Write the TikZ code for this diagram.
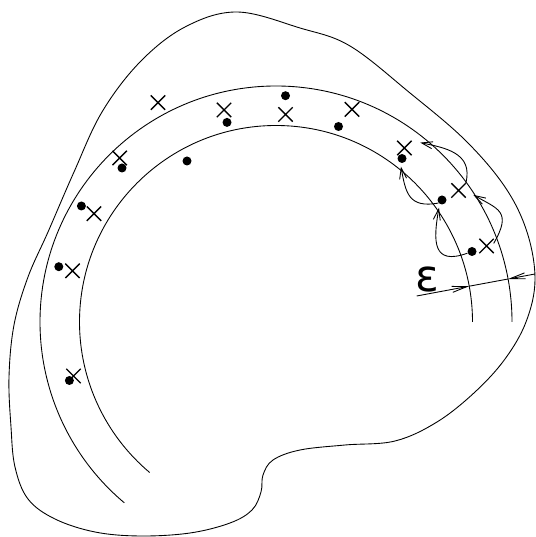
\documentclass[tikz,border=0pt]{standalone}
\usepackage{fontspec}
\newfontfamily\epsfont{DejaVu Sans}
\usetikzlibrary{arrows.meta,shapes.misc}

\begin{document}
\begin{tikzpicture}[
    x=0.02cm, y=0.02cm,
    edge/.style={line width=0.5pt},
    xmark/.style={
        cross out, draw, line width=0.8pt,
        minimum size=0.26cm, inner sep=0pt
    },
    dotmark/.style={
        circle, fill, minimum size=0.18cm, inner sep=0pt
    },
    flow/.style={-{Straight Barb[length=2.2mm,width=1.4mm]}, line width=0.5pt},
    dimarr/.style={-{Straight Barb[length=3mm,width=1.2mm]}, line width=0.5pt}
]
\useasboundingbox (0,0) rectangle (536,537);

% Outer region
\draw[edge] plot[smooth cycle, tension=0.6] coordinates {
    (237,525) (300,509) (350,491) (410,444) (465,397) (505,350) (527,305)
    (535,257) (526,215) (505,178) (475,145) (437,115) (395,96) (345,92)
    (300,87) (273,77) (263,62) (261,45) (252,27) (230,14) (190,4) (140,1)
    (95,5) (55,18) (28,38) (15,70) (11,110) (9,160) (14,212) (28,260)
    (48,305) (74,365) (102,425) (140,475) (185,510)};

% Band between two circular arcs
\coordinate (C) at (276,215);
\draw[edge] (C) ++(196.5,0) arc[start angle=0, end angle=230, radius=196.5];
\draw[edge] (C) ++(236,0) arc[start angle=0, end angle=230, radius=236];

% Crosses
\node[xmark] (c1)  at (158,434.4) {};
\node[xmark] (c2)  at (224,427)   {};
\node[xmark] (c3)  at (285.5,422.5) {};
\node[xmark] (c4)  at (352,427.6) {};
\node[xmark] (c5)  at (119.7,379) {};
\node[xmark] (c6)  at (94,323.3)  {};
\node[xmark] (c7)  at (72.5,266.2) {};
\node[xmark] (c8)  at (73.5,161)  {};
\node[xmark] (c9)  at (404.4,389) {};
\node[xmark] (c10) at (458.5,346.5) {};
\node[xmark] (c11) at (486.5,291) {};

% Dots
\node[dotmark] (d1)  at (227,414.6) {};
\node[dotmark] (d2)  at (285.5,441.3) {};
\node[dotmark] (d3)  at (338.5,410.5) {};
\node[dotmark] (d4)  at (122,369)   {};
\node[dotmark] (d5)  at (187,376)   {};
\node[dotmark] (d6)  at (81.4,331)  {};
\node[dotmark] (d7)  at (58.8,270.3) {};
\node[dotmark] (d8)  at (69.4,156.5) {};
\node[dotmark] (d9)  at (402,378.5) {};
\node[dotmark] (d10) at (442,337)   {};
\node[dotmark] (d11) at (472,285.5) {};

% Steps along the band
\draw[flow, shorten >=2pt] (d11.200) to[out=200, in=-100, looseness=1.7] (d10.240);
\draw[flow, shorten >=2pt] (d10.220) to[out=190, in=-80, looseness=1.4] (d9.250);
\draw[flow, shorten >=5pt] (c11.20) to[out=60, in=-30, looseness=1.6] (c10.east);
\draw[flow, shorten >=5pt] (c10.north east) to[out=75, in=-12, looseness=1.2] (c9.north east);

% Width of the band
\coordinate (dimL)   at (416.7,241);
\coordinate (dimR)   at (535,263);
\coordinate (dimIn)  at (469.2,250.8);
\coordinate (dimOut) at (508.1,258);
\draw[dimarr] (dimL) -- (dimIn);
\draw[edge] (dimIn) -- (dimOut);
\draw[dimarr] (dimR) -- (dimOut);
\node[font=\epsfont\fontsize{25}{25}\selectfont] (eps) at (427,257) {ε};
\end{tikzpicture}
\end{document}
